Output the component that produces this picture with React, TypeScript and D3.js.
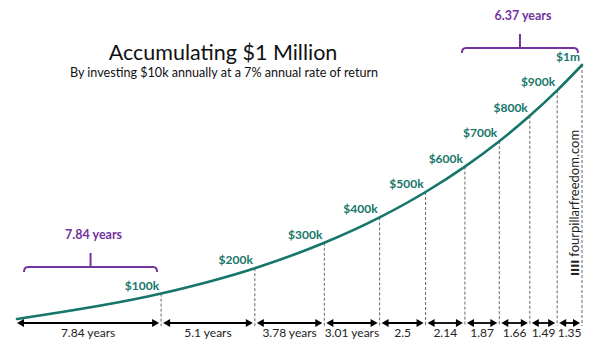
import React from "react";
import * as d3 from "d3";

// ---- data ----
const intervals = [7.84, 5.1, 3.78, 3.01, 2.5, 2.14, 1.87, 1.66, 1.49, 1.35];
const intervalLabels = ["7.84 years", "5.1 years", "3.78 years", "3.01 years", "2.5", "2.14", "1.87", "1.66", "1.49", "1.35"];
const milestones = [100, 200, 300, 400, 500, 600, 700, 800, 900, 1000]; // $k
const milestoneLabels = ["$100k", "$200k", "$300k", "$400k", "$500k", "$600k", "$700k", "$800k", "$900k", "$1m"];
const bracketRanges: [number, number][] = [[0, 1], [6, 10]]; // boundary indices
const bracketLabels = ["7.84 years", "6.37 years"];

const W = 602, H = 356;
const TEAL = "#16766a";
const PURPLE = "#7434a0";
const FONT = "Lato, 'Open Sans', sans-serif";

export default function App() {
  const years = [0, ...Array.from(d3.cumsum(intervals))];
  const values = [0, ...milestones];
  const total = years[years.length - 1];

  const x = d3.scaleLinear().domain([0, total]).range([17, 582]);
  const y = d3.scaleLinear().domain([0, 1000]).range([319, 65]);

  const pts: [number, number][] = years.map((t, i) => [t, values[i]]);
  const line = d3.line<[number, number]>()
    .x(d => x(d[0]))
    .y(d => y(d[1]))
    .curve(d3.curveMonotoneX);

  const axisY = 323;
  const bracketY = [267, 48];

  const arrowHead = (px: number, py: number, dir: number) => {
    const L = 7, h = 4;
    return `M${px},${py} L${px - dir * L},${py - h} L${px - dir * L},${py + h} Z`;
  };

  return (
    <svg width={W} height={H} style={{ position: "absolute", left: 0, top: 0, background: "#fff", fontFamily: FONT }}>
      <rect x={0} y={0} width={W} height={H} fill="#fff" />
      {/* Title */}
      <text x={223} y={60} textAnchor="middle" fontSize={21.5} fill="#111">Accumulating $1 Million</text>
      <text x={224} y={77} textAnchor="middle" fontSize={12.6} fill="#111">By investing $10k annually at a 7% annual rate of return</text>

      {/* dashed drop lines */}
      {milestones.map((v, i) => (
        <line key={"d" + i} x1={x(years[i + 1])} x2={x(years[i + 1])} y1={y(v)} y2={axisY + 3}
          stroke="#666" strokeWidth={1} strokeDasharray="3,2" />
      ))}

      {/* curve */}
      <path d={line(pts) || ""} fill="none" stroke={TEAL} strokeWidth={2.6} strokeLinecap="round" />

      {/* milestone labels */}
      {milestones.map((v, i) => (
        <text key={"m" + i} x={x(years[i + 1]) - 2} y={y(v) - 4} textAnchor="end" fontSize={12}
          fontWeight="bold" fill={TEAL}>{milestoneLabels[i]}</text>
      ))}

      {/* interval arrows */}
      {intervals.map((d, i) => {
        const x1 = x(years[i]) + (i === 0 ? 0 : 2);
        const x2 = x(years[i + 1]) - 2;
        return (
          <g key={"a" + i}>
            <line x1={x1 + 4} x2={x2 - 4} y1={axisY} y2={axisY} stroke="#000" strokeWidth={1.8} />
            <path d={arrowHead(x1, axisY, -1)} fill="#000" />
            <path d={arrowHead(x2, axisY, 1)} fill="#000" />
            <text x={(x1 + x2) / 2} y={337} textAnchor="middle" fontSize={12} fill="#222">{intervalLabels[i]}</text>
          </g>
        );
      })}

      {/* brackets */}
      {bracketRanges.map(([a, b], i) => {
        const x1 = x(years[a]) + (i === 0 ? 7 : -3);
        const x2 = x(years[b]) - 4;
        const by = bracketY[i];
        const cx = (x1 + x2) / 2;
        const path = `M${x1},${by + 5} Q${x1},${by} ${x1 + 4},${by} L${x2 - 4},${by} Q${x2},${by} ${x2},${by + 5} M${cx},${by} L${cx},${by - 14}`;
        return (
          <g key={"b" + i}>
            <path d={path} fill="none" stroke={PURPLE} strokeWidth={2} />
            <text x={cx + 3} y={by - 28} textAnchor="middle" fontSize={12.5} fontWeight="bold" fill={PURPLE}>{bracketLabels[i]}</text>
          </g>
        );
      })}

      {/* watermark */}
      <text transform="translate(579,276) rotate(-90)" fontSize={13} fill="#222">
        <tspan fontWeight="bold" fontFamily="'DejaVu Sans', sans-serif" fontSize={11}>IIII</tspan>
        <tspan dx={3}>fourpillarfreedom.com</tspan>
      </text>
    </svg>
  );
}
